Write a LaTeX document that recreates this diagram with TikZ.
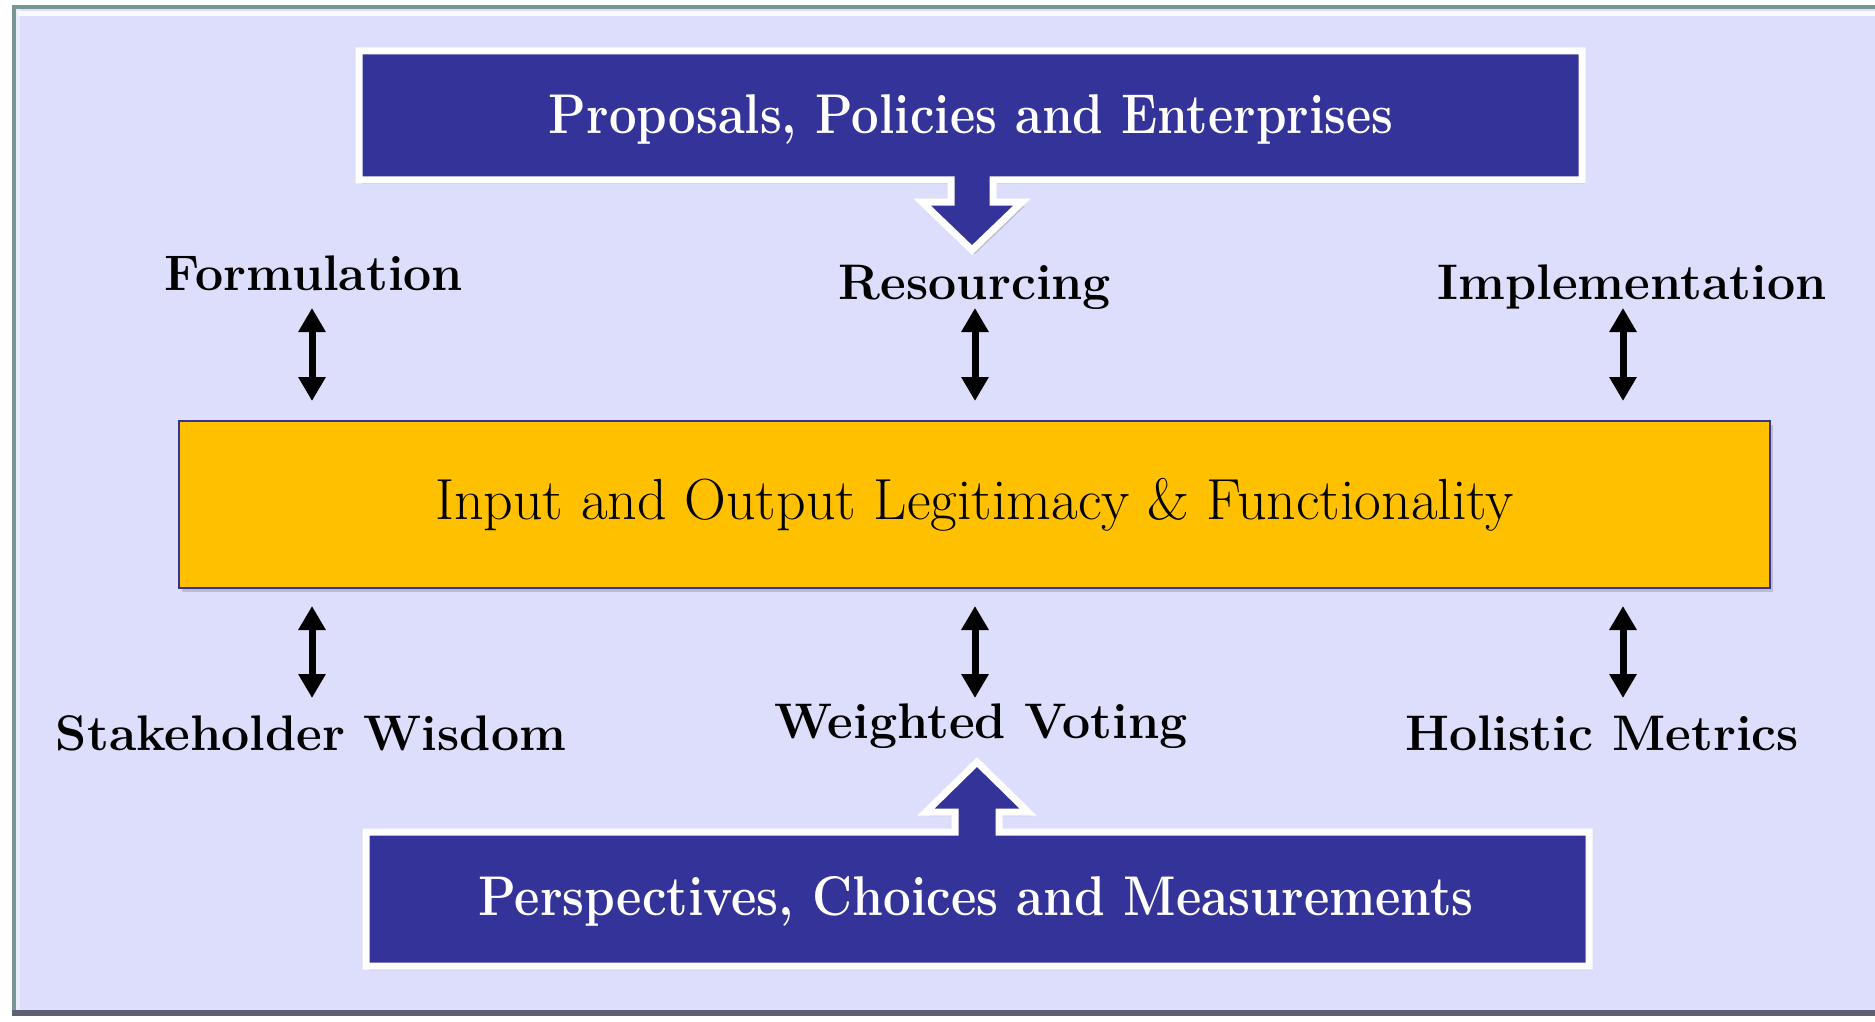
\documentclass[tikz,border=0pt]{standalone}
\usepackage{fontspec}
\usepackage{graphicx}
\usetikzlibrary{arrows.meta,shadows}
\definecolor{lav}{RGB}{221,222,251}
\definecolor{frameedge}{RGB}{120,150,150}
\definecolor{framebot}{RGB}{95,95,115}
\definecolor{navy}{RGB}{51,51,153}
\definecolor{gold}{RGB}{255,192,0}
\tikzset{
  lbl/.style={font=\fontsize{50}{60}\selectfont\bfseries, text=black, inner sep=0pt},
  dbl/.style={line width=7pt, {Triangle[width=26pt,length=24pt]}-{Triangle[width=26pt,length=24pt]},
     drop shadow={opacity=0.3, shadow xshift=2pt, shadow yshift=-3pt}},
  callout/.style={fill=navy, draw=white, line width=7pt, line join=miter,
     drop shadow={opacity=0.35, shadow xshift=3pt, shadow yshift=-4pt}},
  ctext/.style={font=\fontsize{56}{66}\selectfont\bfseries, text=white, inner sep=0pt},
  ybox/.style={fill=gold, draw=navy, line width=2pt, inner sep=0pt,
     drop shadow={opacity=0.35, shadow xshift=3pt, shadow yshift=-4pt},
     font=\fontsize{58}{68}\selectfont}
}
\begin{document}
\begin{tikzpicture}[x=1pt,y=-1pt]
\useasboundingbox (0,0) rectangle (1875,1022);
% frame
\fill[white] (0,0) rectangle (1875,1022);
\fill[frameedge] (12,5) rectangle (1875,1016);
\fill[framebot] (12,1010) rectangle (1875,1016);
\fill[lav] (16,9) rectangle (1875,1010);
\fill[white, opacity=0.8] (18,11) rectangle (1875,16);
\fill[white, opacity=0.4] (16,9) rectangle (20,1010);

% top callout
\path[callout] (359,51) -- (1582,51) -- (1582,180) -- (993,180) -- (993,202) -- (1022,202)
  -- (972,250) -- (922,202) -- (951,202) -- (951,180) -- (359,180) -- cycle;
\node[ctext] (ppe) at (971,120) {\scalebox{0.875}[1]{\bfseries Proposals, Policies and Enterprises}};

% bottom callout
\path[callout] (366,832) -- (955,832) -- (955,812) -- (926,812) -- (977,762) -- (1028,812)
  -- (999,812) -- (999,832) -- (1589,832) -- (1589,966) -- (366,966) -- cycle;
\node[ctext] (pcm) at (976,901) {\scalebox{0.88}[1]{\bfseries Perspectives, Choices and Measurements}};

% central box
\node[ybox, minimum width=1591pt, minimum height=167pt] (core) at (974.5,504.5)
  {Input and Output Legitimacy \& Functionality};

% labels
\node[lbl] (form) at (314,273) {Formulation};
\node[lbl] (reso) at (975,287) {Resourcing};
\node[lbl] (impl) at (1632,287) {Implementation};
\node[lbl] (stak) at (311,733) {Stakeholder Wisdom};
\node[lbl] (vote) at (981,726) {Weighted Voting};
\node[lbl] (holi) at (1602,733) {Holistic Metrics};

% arrow end points
\coordinate (u1t) at (312,308); \coordinate (u1b) at (312,401);
\coordinate (u2t) at (975,308); \coordinate (u2b) at (975,401);
\coordinate (u3t) at (1623,308); \coordinate (u3b) at (1623,401);
\coordinate (d1t) at (312,606); \coordinate (d1b) at (312,698);
\coordinate (d2t) at (975,606); \coordinate (d2b) at (975,698);
\coordinate (d3t) at (1623,606); \coordinate (d3b) at (1623,698);

\draw[dbl] (u1t) -- (u1b);
\draw[dbl] (u2t) -- (u2b);
\draw[dbl] (u3t) -- (u3b);
\draw[dbl] (d1t) -- (d1b);
\draw[dbl] (d2t) -- (d2b);
\draw[dbl] (d3t) -- (d3b);
\end{tikzpicture}
\end{document}
